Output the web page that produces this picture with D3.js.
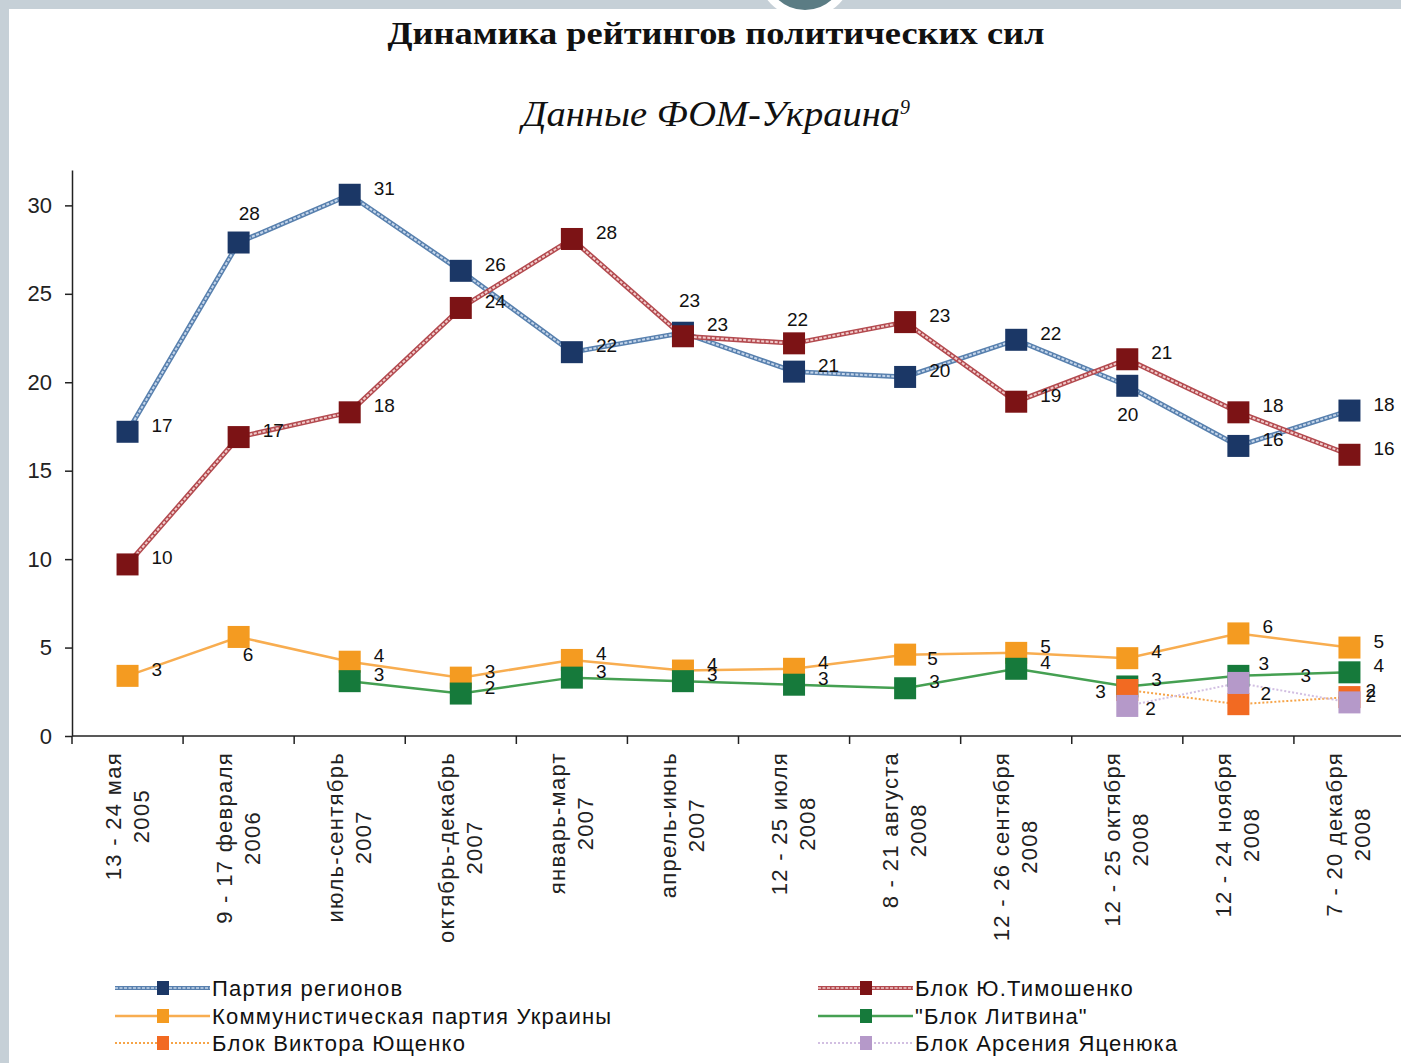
<!DOCTYPE html>
<html>
<head>
<meta charset="utf-8">
<script src="https://cdn.jsdelivr.net/npm/d3@7"></script>
<style>
  body { margin: 0; background: #fff; }
  svg text { font-family: "Liberation Sans", Arial, sans-serif; fill: #111; }
</style>
</head>
<body>
<div id="chart"></div>
<script>
// survey waves (two-line tick labels)
const categories = [
    ["13 - 24 мая", "2005"],
    ["9 - 17 февраля", "2006"],
    ["июль-сентябрь", "2007"],
    ["октябрь-декабрь", "2007"],
    ["январь-март", "2007"],
    ["апрель-июнь", "2007"],
    ["12 - 25 июля", "2008"],
    ["8 - 21 августа", "2008"],
    ["12 - 26 сентября", "2008"],
    ["12 - 25 октября", "2008"],
    ["12 - 24 ноября", "2008"],
    ["7 - 20 декабря", "2008"]
];

const seriesNames = [
    "Партия регионов",
    "Блок Ю.Тимошенко",
    "Коммунистическая партия Украины",
    "\"Блок Литвина\"",
    "Блок Виктора Ющенко",
    "Блок Арсения Яценюка"
];

const regions    = [17.2, 27.9, 30.6, 26.3, 21.7, 22.8, 20.6, 20.3, 22.4, 19.8, 16.4, 18.4];
const tymoshenko = [9.7, 16.9, 18.3, 24.2, 28.1, 22.6, 22.2, 23.4, 18.9, 21.3, 18.3, 15.9];
const kpu        = [3.4, 5.6, 4.2, 3.3, 4.3, 3.7, 3.8, 4.6, 4.7, 4.4, 5.8, 5.0];
const litvin     = [null, null, 3.1, 2.4, 3.3, 3.1, 2.9, 2.7, 3.8, 2.8, 3.4, 3.6];
const yushchenko = [null, null, null, null, null, null, null, null, null, 2.6, 1.8, 2.2];
const yatsenyuk  = [null, null, null, null, null, null, null, null, null, 1.7, 3.0, 1.9];

const yTicks = [0, 5, 10, 15, 20, 25, 30];

// look of each series
const styles = [
    {marker: "#1b3766", outer: "#5880ae", inner: "#c4d5ea", width: 5, dash: "3 1.5"},
    {marker: "#7c1315", outer: "#b34a4f", inner: "#f1cccc", width: 5, dash: "3 1.5"},
    {marker: "#f49b21", outer: "#f8ad50", inner: null, width: 2.5, dash: null},
    {marker: "#167a3b", outer: "#45a052", inner: null, width: 2.5, dash: null},
    {marker: "#f26a22", outer: "#f6a448", inner: null, width: 2, dash: "2 2"},
    {marker: "#b599c9", outer: "#d2bfe2", inner: null, width: 2, dash: "2 2"}
];

// label nudges [dx, dy] where Excel moved the label off its default spot
const labelNudge = {
    0: {1: [0, -23], 5: [-4, -26], 9: [-10, 35]},
    1: {5: [24, -5], 6: [-7, -17]},
    2: {1: [4, 24], 7: [22, 10]},
    3: {10: [20, -6]},
    4: {9: [-32, 8], 10: [22, -4], 11: [16, 0]},
    5: {9: [18, 9], 10: [62, -1], 11: [16, 0]}
};

const allSeries = [regions, tymoshenko, kpu, litvin, yushchenko, yatsenyuk];

const width = 1401, height = 1063;
const plot = {left: 72, right: 1405, top: 170, bottom: 736};

let svg = d3.select("#chart")
    .append("svg")
    .attr("width", width)
    .attr("height", height);

// slide frame
svg.append("rect").attr("x", 0).attr("y", 0).attr("width", width).attr("height", 9).attr("fill", "#c6d0d7");
svg.append("rect").attr("x", 0).attr("y", 0).attr("width", 9).attr("height", height).attr("fill", "#c6d0d7");
svg.append("circle").attr("cx", 805).attr("cy", -30).attr("r", 48).attr("fill", "#fff");
svg.append("circle").attr("cx", 805).attr("cy", -30).attr("r", 40).attr("fill", "#5b7c84");

// titles
svg.append("text")
    .attr("x", 716).attr("y", 44)
    .attr("text-anchor", "middle")
    .attr("textLength", 657)
    .attr("lengthAdjust", "spacingAndGlyphs")
    .style("font-family", "'Liberation Serif', 'Times New Roman', serif")
    .style("font-weight", "bold")
    .style("font-size", "32px")
    .text("Динамика рейтингов политических сил");

let sub = svg.append("text")
    .attr("x", 522).attr("y", 126)
    .style("font-family", "'Liberation Serif', 'Times New Roman', serif")
    .style("font-style", "italic")
    .style("font-size", "36px");
sub.append("tspan")
    .attr("textLength", 378)
    .attr("lengthAdjust", "spacingAndGlyphs")
    .text("Данные ФОМ-Украина");
sub.append("tspan")
    .attr("dy", -12)
    .style("font-size", "20px")
    .text("9");

let x = d3.scaleBand()
    .domain(d3.range(categories.length))
    .range([plot.left, plot.right])
    .padding(0);

let y = d3.scaleLinear()
    .domain([0, 32])
    .range([plot.bottom, plot.top]);

let cx = i => x(i) + x.bandwidth() / 2;

// y axis
let yAxis = svg.append("g")
    .attr("transform", `translate(${plot.left},0)`)
    .call(d3.axisLeft(y).tickValues(yTicks).tickSize(7).tickPadding(13).tickSizeOuter(0));
yAxis.select(".domain").attr("stroke", "#222").attr("stroke-width", 1.5);
yAxis.selectAll(".tick line").attr("stroke", "#222").attr("stroke-width", 1.5);
yAxis.selectAll(".tick text")
    .style("font-size", "22px")
    .style("fill", "#222");

// x axis: line plus ticks between categories
svg.append("line")
    .attr("x1", plot.left).attr("x2", width)
    .attr("y1", y(0)).attr("y2", y(0))
    .attr("stroke", "#222").attr("stroke-width", 1.5);

svg.append("g")
    .selectAll("line")
    .data(d3.range(categories.length + 1))
    .enter().append("line")
    .attr("x1", d => plot.left + d * x.step())
    .attr("x2", d => plot.left + d * x.step())
    .attr("y1", y(0)).attr("y2", y(0) + 8)
    .attr("stroke", "#222").attr("stroke-width", 1.5);

let xLabels = svg.append("g")
    .selectAll("g")
    .data(categories)
    .enter().append("g")
    .attr("transform", (d, i) => `translate(${cx(i)},${y(0)})`);

xLabels.each(function (lines) {
    let t = d3.select(this).append("text")
        .attr("transform", "rotate(-90)")
        .attr("text-anchor", "middle")
        .style("font-size", "22px")
        .style("letter-spacing", "1.3px")
        .style("fill", "#222");
    let spans = t.selectAll("tspan").data(lines).enter().append("tspan")
        .attr("y", (d, k) => k === 0 ? -7 : 21)
        .text(d => d);
    let w = d3.max(spans.nodes(), n => n.getComputedTextLength());
    spans.attr("x", -(16 + w / 2));
});

// lines
let line = d3.line()
    .defined(d => d != null)
    .x((d, i) => cx(i))
    .y(d => y(d));

allSeries.forEach(function (data, s) {
    let st = styles[s];
    svg.append("path")
        .attr("d", line(data))
        .attr("fill", "none")
        .attr("stroke", st.outer)
        .attr("stroke-width", st.width)
        .attr("stroke-dasharray", st.inner ? null : st.dash);
    if (st.inner) {
        svg.append("path")
            .attr("d", line(data))
            .attr("fill", "none")
            .attr("stroke", st.inner)
            .attr("stroke-width", 2)
            .attr("stroke-dasharray", st.dash);
    }
});

// markers
const M = 22;
allSeries.forEach(function (data, s) {
    svg.append("g")
        .selectAll("rect")
        .data(data.map((v, i) => ({v: v, i: i})).filter(d => d.v != null))
        .enter().append("rect")
        .attr("x", d => cx(d.i) - M / 2)
        .attr("y", d => y(d.v) - M / 2)
        .attr("width", M)
        .attr("height", M)
        .attr("fill", styles[s].marker);
});

// data labels
let fmt = d3.format(".0f");
allSeries.forEach(function (data, s) {
    svg.append("g")
        .selectAll("text")
        .data(data.map((v, i) => ({v: v, i: i})).filter(d => d.v != null))
        .enter().append("text")
        .attr("x", d => cx(d.i) + ((labelNudge[s][d.i] || [24, 0])[0]))
        .attr("y", d => y(d.v) + ((labelNudge[s][d.i] || [24, 0])[1]))
        .style("font-size", "19px")
        .text(d => fmt(d.v));
});

// legend
const legendCols = [115, 818];
const legendRows = [988, 1016, 1043];
let legend = svg.append("g");
seriesNames.forEach(function (name, s) {
    let lx = legendCols[s % 2], ly = legendRows[Math.floor(s / 2)];
    let st = styles[s];
    let g = legend.append("g");
    g.append("line")
        .attr("x1", lx).attr("x2", lx + 95)
        .attr("y1", ly).attr("y2", ly)
        .attr("stroke", st.outer)
        .attr("stroke-width", st.inner ? 4 : st.width)
        .attr("stroke-dasharray", st.inner ? null : st.dash);
    if (st.inner) {
        g.append("line")
            .attr("x1", lx).attr("x2", lx + 95)
            .attr("y1", ly).attr("y2", ly)
            .attr("stroke", st.inner)
            .attr("stroke-width", 1.5)
            .attr("stroke-dasharray", st.dash);
    }
    g.append("rect")
        .attr("x", lx + 42).attr("y", ly - 7)
        .attr("width", 12).attr("height", 14)
        .attr("fill", st.marker);
    g.append("text")
        .attr("x", lx + 97).attr("y", ly + 8)
        .style("font-size", "22px")
        .style("letter-spacing", "1.2px")
        .text(name);
});
</script>
</body>
</html>
